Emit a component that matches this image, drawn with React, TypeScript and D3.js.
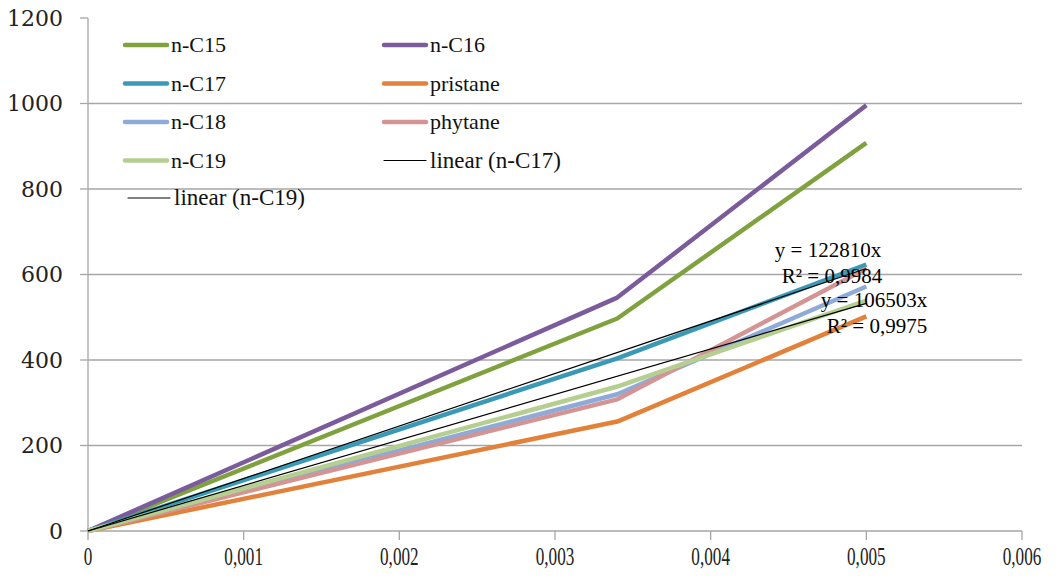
import React from "react";
import * as d3 from "d3";

const xValues = [0, 0.0034, 0.005];
const series = [
  { name: "n-C15", color: "#7fa23f", values: [0, 497, 908] },
  { name: "n-C16", color: "#7b5b9b", values: [0, 546, 996] },
  { name: "n-C17", color: "#3a9ab6", values: [0, 404, 623] },
  { name: "pristane", color: "#e2823a", values: [0, 256, 502] },
  { name: "n-C18", color: "#8eaad8", values: [0, 320, 572] },
  { name: "phytane", color: "#d49494", values: [0, 308, 614] },
  { name: "n-C19", color: "#b4cf90", values: [0, 338, 539] },
];
const trends = [
  { name: "linear (n-C17)", slope: 122810, r2: "0,9984" },
  { name: "linear (n-C19)", slope: 106503, r2: "0,9975" },
];
const xTicks = [0, 0.001, 0.002, 0.003, 0.004, 0.005, 0.006];
const yTicks = [0, 200, 400, 600, 800, 1000, 1200];

const W = 1060;
const H = 583;

const App = () => {
  const x = d3.scaleLinear().domain([0, 0.006]).range([88, 1022]);
  const y = d3.scaleLinear().domain([0, 1200]).range([531, 18]);
  const line = d3
    .line<number>()
    .x((_, i) => x(xValues[i]))
    .y(d => y(d));
  const fmt = (v: number) => (v === 0 ? "0" : v.toFixed(3).replace(".", ","));

  // legend: two columns in reading order, last entry on its own row
  const legendItems = [
    ...series.map(s => ({ name: s.name, color: s.color, w: 4.5 })),
    ...trends.map(t => ({ name: t.name, color: "#000", w: 1.2 })),
  ];
  const legendPos = legendItems.map((_, i) =>
    i < 8 ? { x: i % 2 === 0 ? 125 : 384, y: 45 + Math.floor(i / 2) * 38.5 } : { x: 128, y: 198 }
  );

  return (
    <svg width={W} height={H} style={{ position: "absolute", left: 0, top: 0, background: "#fff" }}>
      <rect width={W} height={H} fill="#fff" />
      {yTicks.slice(1, -1).map(t => (
        <line key={t} x1={88} x2={1022} y1={y(t)} y2={y(t)} stroke="#a6a6a6" strokeWidth={1.3} />
      ))}
      <line x1={88} x2={88} y1={y(1200)} y2={y(0)} stroke="#a6a6a6" strokeWidth={1.3} />
      <line x1={88} x2={1022} y1={y(0)} y2={y(0)} stroke="#a6a6a6" strokeWidth={1.3} />
      {yTicks.map(t => (
        <g key={t}>
          <line x1={80} x2={88} y1={y(t)} y2={y(t)} stroke="#a6a6a6" strokeWidth={1.3} />
          <text x={63} y={y(t)} dy="0.36em" textAnchor="end" fontFamily="DejaVu Serif" fontSize={22} fill="#222">
            {t}
          </text>
        </g>
      ))}
      {xTicks.map(t => (
        <g key={t}>
          <line x1={x(t)} x2={x(t)} y1={y(0)} y2={y(0) + 9} stroke="#a6a6a6" strokeWidth={1.3} />
          <text
            transform={`translate(${x(t)},${y(0) + 34}) scale(0.66,1)`}
            textAnchor="middle"
            fontFamily="Liberation Serif, serif"
            fontSize={26}
            fill="#222"
          >
            {fmt(t)}
          </text>
        </g>
      ))}
      {series.map(s => (
        <path key={s.name} d={line(s.values) ?? ""} fill="none" stroke={s.color} strokeWidth={4.5} strokeLinejoin="round" />
      ))}
      {trends.map(t => (
        <line
          key={t.name}
          x1={x(0)}
          y1={y(0)}
          x2={x(0.005)}
          y2={y(t.slope * 0.005)}
          stroke="#000"
          strokeWidth={1.2}
        />
      ))}
      <g fontFamily="Liberation Serif, serif" fontSize={21} fill="#000" textAnchor="middle">
        <text x={828} y={257}>y = 122810x</text>
        <text x={832} y={283}>R² = 0,9984</text>
        <text x={874} y={307}>y = 106503x</text>
        <text x={877} y={333}>R² = 0,9975</text>
      </g>
      {legendItems.map((it, i) => (
        <g key={it.name} transform={`translate(${legendPos[i].x},${legendPos[i].y})`}>
          <line x1={0} x2={42} y1={0} y2={0} stroke={it.color} strokeWidth={it.w} strokeLinecap="round" />
          <text x={46} y={0} dy="0.32em" fontFamily="Liberation Serif, serif" fontSize={it.w < 2 ? 23 : 22} fill="#111">
            {it.name}
          </text>
        </g>
      ))}
    </svg>
  );
};

export default App;
